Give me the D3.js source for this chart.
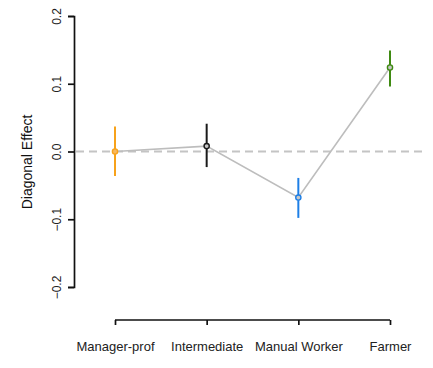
<!DOCTYPE html>
<html><head><meta charset="utf-8">
<script src="https://cdn.jsdelivr.net/npm/d3@7"></script>
<style>body{margin:0;background:#fff;}svg{display:block;font-family:"Liberation Sans",Arial,sans-serif;}</style>
</head><body><svg id="c" width="433" height="368"></svg>
<script>
const categories = ["Manager-prof","Intermediate","Manual Worker","Farmer"];
const estimates = [0.0, 0.008, -0.068, 0.124];
const ciLower = [-0.036, -0.023, -0.098, 0.096];
const ciUpper = [0.037, 0.041, -0.039, 0.149];
const colors = ["#f7a21b","#1a1a1a","#1e7fe6","#3f8a12"];
const yTicks = [-0.2,-0.1,0.0,0.1,0.2];

const svg = d3.select("#c");
const y = d3.scaleLinear().domain([-0.2,0.2]).range([287,16]);
const x = d3.scalePoint().domain(categories).range([115,390]);

// y axis
const yAxis = svg.append("g").attr("transform","translate(74,0)")
  .call(d3.axisLeft(y).tickValues(yTicks).tickFormat(d3.format(".1f")).tickSizeOuter(0).tickSize(6));
yAxis.select(".domain").attr("stroke","#111").attr("stroke-width",1.7);
yAxis.selectAll(".tick line").attr("stroke","#111").attr("stroke-width",1.7);
yAxis.selectAll(".tick text").attr("transform","rotate(-90)").attr("x",0).attr("y",-17)
  .attr("dy","0.35em").attr("text-anchor","middle").attr("font-size",12).attr("fill","#222");

svg.append("text").attr("transform","translate(32,162) rotate(-90)").attr("text-anchor","middle")
  .attr("font-size",14).attr("fill","#111").text("Diagonal Effect");

// x axis
const xAxis = svg.append("g").attr("transform","translate(0,320)")
  .call(d3.axisBottom(x).tickSizeOuter(0).tickSize(5));
xAxis.select(".domain").attr("stroke","#111").attr("stroke-width",1.7).attr("d","M115,0H390");
xAxis.selectAll(".tick line").attr("stroke","#111").attr("stroke-width",1.7);
xAxis.selectAll(".tick text").attr("y",26).attr("dy","0.35em").attr("font-size",13).attr("fill","#222");

// zero line
svg.append("line").attr("x1",76).attr("x2",426).attr("y1",y(0)).attr("y2",y(0))
  .attr("stroke","#c4c4c4").attr("stroke-width",2).attr("stroke-dasharray","8,5");

// connecting line
svg.append("path").datum(estimates)
  .attr("d", d3.line().x((d,i)=>x(categories[i])).y(d=>y(d)))
  .attr("fill","none").attr("stroke","#bdbdbd").attr("stroke-width",1.6);

// error bars
svg.selectAll(".err").data(categories).enter().append("line")
  .attr("x1",d=>x(d)).attr("x2",d=>x(d))
  .attr("y1",(d,i)=>y(ciUpper[i])).attr("y2",(d,i)=>y(ciLower[i]))
  .attr("stroke",(d,i)=>colors[i]).attr("stroke-width",2);

// points
svg.selectAll(".pt").data(categories).enter().append("circle")
  .attr("cx",d=>x(d)).attr("cy",(d,i)=>y(estimates[i])).attr("r",2.6)
  .attr("fill",(d,i)=>i===0?"#f7b860":"#c8c8c8").attr("stroke",(d,i)=>colors[i]).attr("stroke-width",1.4);
</script></body></html>
